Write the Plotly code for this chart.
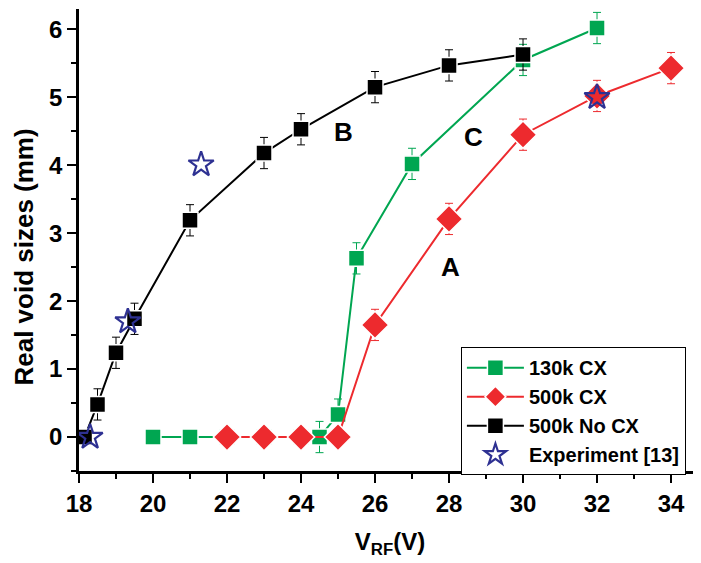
import plotly.graph_objects as go

# 130k CX (green)
x_130k = [20, 21, 22, 23, 24, 24.5, 25, 25.5, 27, 30, 32]
y_130k = [0, 0, 0, 0, 0, 0, 0.33, 2.63, 4.02, 5.55, 6.02]
e_130k = [0, 0, 0, 0, 0, 0.23, 0.23, 0.23, 0.23, 0.23, 0.23]

# 500k CX (red)
x_500k = [22, 23, 24, 25, 26, 28, 30, 32, 34]
y_500k = [0, 0, 0, 0, 1.65, 3.21, 4.45, 5.02, 5.43]
e_500k = [0, 0, 0, 0, 0.23, 0.23, 0.23, 0.23, 0.23]

# 500k No CX (black)
x_nocx = [18.15, 18.5, 19, 19.5, 21, 23, 24, 26, 28, 30]
y_nocx = [0, 0.48, 1.24, 1.74, 3.19, 4.18, 4.53, 5.15, 5.47, 5.63]
e_nocx = [0, 0.23, 0.23, 0.23, 0.23, 0.23, 0.23, 0.23, 0.23, 0.23]

# Experiment [13]
x_exp = [18.3, 19.32, 21.3, 32]
y_exp = [0, 1.7, 4.01, 5.0]

labels = ["B", "C", "A"]
label_x = [25.15, 28.65, 28.05]
label_y = [4.49, 4.41, 2.51]

GREEN = "#00a651"
RED = "#ed2a2e"
BLACK = "#000000"
BLUE = "#2e3192"
FONT = "Liberation Sans"

fig = go.Figure()

def series(x, y, e, color, symbol, size, name):
    fig.add_trace(go.Scatter(
        x=x, y=y, name=name, mode="lines+markers",
        line=dict(color=color, width=2),
        marker=dict(symbol=symbol, size=size, color=color,
                    line=dict(color="white", width=1.5)),
        error_y=dict(type="data", array=e, color=color, thickness=1, width=4),
    ))

series(x_130k, y_130k, e_130k, GREEN, "square", 16, "130k CX")
series(x_500k, y_500k, e_500k, RED, "diamond", 21, "500k CX")
series(x_nocx, y_nocx, e_nocx, BLACK, "square", 16, "500k No CX")

fig.add_trace(go.Scatter(
    x=x_exp, y=y_exp, name="Experiment [13]", mode="markers",
    marker=dict(symbol="star-open", size=19, color=BLUE, line=dict(color=BLUE, width=2.2)),
))

for t, lx, ly in zip(labels, label_x, label_y):
    fig.add_annotation(x=lx, y=ly, text=t, showarrow=False,
                       font=dict(family=FONT, size=26, color="black", weight="bold"))

# y-axis title (placed as an annotation for exact positioning)
fig.add_annotation(
    xref="paper", yref="paper", x=0, y=0.462, xshift=-55, xanchor="center", yanchor="middle",
    text="Real void sizes (mm)", textangle=-90, showarrow=False,
    font=dict(family=FONT, size=26, color="black", weight="bold"),
)

axis_common = dict(
    showgrid=False, zeroline=False, showline=True, linecolor="black", linewidth=2.5,
    ticks="outside", ticklen=9, tickwidth=2, tickcolor="black", automargin=False,
    tickfont=dict(family=FONT, size=24, color="black", weight="bold"),
)

fig.update_xaxes(
    range=[18, 34.81], tick0=18, dtick=2,
    minor=dict(ticks="outside", ticklen=5, tickwidth=2, tickcolor="black", dtick=1),
    title=dict(text="V<sub>RF</sub>(V)", font=dict(family=FONT, size=24, color="black", weight="bold"), standoff=18),
    **axis_common,
)
fig.update_yaxes(
    range=[-0.5, 6.3], tick0=0, dtick=1,
    minor=dict(ticks="outside", ticklen=5, tickwidth=2, tickcolor="black", dtick=0.5),
    **axis_common,
)

# The page body adds an 8 px offset, so the figure is drawn 8 px smaller and shifted.
fig.update_layout(
    width=693, height=555,
    margin=dict(l=71, r=0, t=1, b=92),
    plot_bgcolor="white", paper_bgcolor="white",
    showlegend=True,
    legend=dict(
        x=0.614, y=0.268, xanchor="left", yanchor="top",
        bordercolor="black", borderwidth=1, bgcolor="white",
        font=dict(family=FONT, size=20, color="black", weight="bold"),
        tracegroupgap=0, itemwidth=57,
    ),
)

fig.write_html("out.html")
